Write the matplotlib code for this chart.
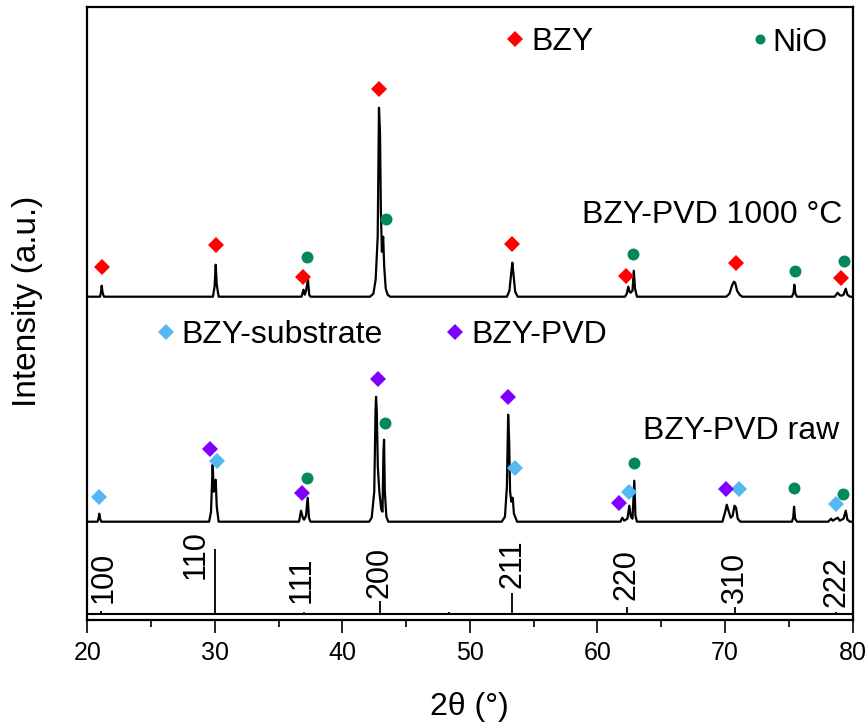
import matplotlib
matplotlib.use("Agg")
import matplotlib.pyplot as plt
from matplotlib.ticker import MultipleLocator

plt.rcParams['font.family'] = ['Liberation Sans', 'DejaVu Sans']

# ---------------- data ----------------
# BZY-PVD 1000 °C pattern (2theta, relative intensity above its baseline)
top_x = [20.0, 21.0, 21.08, 21.13, 21.2, 21.3,
         29.85, 29.98, 30.07, 30.15, 30.3,
         36.8, 36.95, 37.05, 37.15, 37.3, 37.4, 37.5,
         42.17, 42.43, 42.61, 42.77, 42.87, 42.95, 43.02, 43.1, 43.2, 43.28, 43.4, 43.55, 43.75,
         52.9, 53.1, 53.25, 53.33, 53.42, 53.55, 53.75,
         62.16, 62.3, 62.42, 62.52, 62.6, 62.75, 62.85, 62.95, 63.1,
         70.1, 70.35, 70.55, 70.7, 70.8, 70.95, 71.15, 71.35,
         75.25, 75.38, 75.44, 75.52, 75.65,
         78.6, 78.84, 79.0, 79.15, 79.3, 79.47, 79.6, 79.8, 79.9]
top_y = [0, 0, 5, 11, 4, 0,
         0, 10, 32, 12, 0,
         0, 7, 2, 6, 17, 2, 0,
         0, 3, 17, 60, 189, 165, 85, 45, 60, 30, 8, 2, 0,
         0, 6, 25, 34, 22, 5, 0,
         0, 3, 10, 5, 4, 6, 26, 8, 0,
         0, 3, 11, 15, 14, 6, 2, 0,
         0, 4, 12, 3, 0,
         0, 4, 1.5, 1, 2, 8, 2, 0, 0]

# BZY-PVD raw pattern
raw_x = [20.0, 20.8, 20.88, 20.94, 21.0, 21.1,
         29.55, 29.7, 29.83, 29.92, 30.0, 30.07, 30.15, 30.3,
         36.6, 36.76, 36.9, 37.0, 37.15, 37.28, 37.38, 37.5,
         42.1, 42.3, 42.5, 42.6, 42.64, 42.7, 42.78, 42.9, 43.05, 43.15, 43.22, 43.27, 43.33, 43.45, 43.6,
         52.5, 52.75, 52.9, 53.0, 53.08, 53.15, 53.25, 53.36, 53.45, 53.7,
         61.8, 61.95, 62.1, 62.35, 62.5, 62.62, 62.75, 62.89, 62.98, 63.1,
         69.8, 70.0, 70.14, 70.3, 70.45, 70.6, 70.75, 70.87, 71.0, 71.2,
         75.25, 75.35, 75.42, 75.5, 75.65,
         78.1, 78.32, 78.45, 78.84, 79.0, 79.3, 79.47, 79.6, 79.8, 79.9]
raw_y = [0, 0, 3, 8, 3, 0,
         0, 10, 57, 30, 38, 42, 15, 0,
         0, 11, 4, 2, 6, 24, 4, 0,
         0, 4, 30, 110, 125, 110, 55, 30, 12, 10, 70, 82, 30, 5, 0,
         0, 5, 35, 107, 80, 30, 20, 24, 8, 0,
         0, 4, 1, 3, 16, 5, 3, 41, 6, 0,
         0, 9, 17, 10, 4, 6, 16, 14, 3, 0,
         0, 4, 15, 3, 0,
         0, 3, 1, 4, 1, 3, 11, 2, 0, 0]

top_offset = 323.3
raw_offset = 98.3

# reference (stick) pattern
ref_pos = [21.1, 30.03, 36.96, 42.94, 48.33, 53.33, 62.34, 70.76, 78.71]
ref_int = [3.6, 65, 2.3, 13, 2.3, 21, 7, 7, 2.3]
ref_base = 5.7
hkl_labels = ['100', '110', '111', '200', '211', '220', '310', '222']
hkl_x = [21.3, 28.5, 36.84, 42.94, 53.33, 62.3, 70.76, 78.75]
hkl_y = [17, 41, 17, 22, 32, 20, 17, 13]

# phase markers: top pattern
bzy_top_x = [21.13, 30.09, 36.89, 42.9, 53.33, 62.22, 70.87, 79.1]
bzy_top_y = [353.3, 375, 342.7, 530.7, 375.7, 344, 356.7, 342.3]
nio_top_x = [37.2, 43.42, 62.82, 75.49, 79.34]
nio_top_y = [362.7, 401.3, 365.7, 349.3, 359.3]

# phase markers: raw pattern
sub_raw_x = [20.94, 30.19, 53.54, 62.48, 71.13, 78.71]
sub_raw_y = [123.3, 158.7, 152.3, 128.3, 131.3, 116]
pvd_raw_x = [29.62, 36.81, 42.77, 53.01, 61.72, 70.08]
pvd_raw_y = [171, 126.7, 241.3, 222.7, 117.3, 131.3]
nio_raw_x = [37.25, 43.34, 62.87, 75.42, 79.28]
nio_raw_y = [141.7, 196.7, 157.3, 131.7, 126]

RED = '#FF0000'
GREEN = '#03875F'
LBLUE = '#55B8F5'
PURPLE = '#7F00FF'

# ---------------- figure ----------------
W, H = 867, 727
fig = plt.figure(figsize=(W / 100, H / 100), dpi=100)
ax = fig.add_axes([87.3 / W, 107 / H, 765.2 / W, 613.3 / H])

ax.plot(top_x, [v + top_offset for v in top_y], color='black', lw=1.6, solid_joinstyle='round')
ax.plot(raw_x, [v + raw_offset for v in raw_y], color='black', lw=1.6, solid_joinstyle='round')

# stick pattern
ax.plot([20, 80], [ref_base, ref_base], color='black', lw=1.5)
ax.vlines(ref_pos, ref_base, [ref_base + v for v in ref_int], color='black', lw=1.3)
for lab, x, y in zip(hkl_labels, hkl_x, hkl_y):
    ax.text(x, y, lab, rotation=90, ha='center', va='bottom', fontsize=22)

dms = 7.8
cms = 8.6
ax.plot(bzy_top_x, bzy_top_y, 'D', color=RED, ms=dms, mew=0)
ax.plot(nio_top_x, nio_top_y, 'o', color=GREEN, ms=cms, mew=0)
ax.plot(sub_raw_x, sub_raw_y, 'D', color=LBLUE, ms=dms, mew=0)
ax.plot(pvd_raw_x, pvd_raw_y, 'D', color=PURPLE, ms=dms, mew=0)
ax.plot(nio_raw_x, nio_raw_y, 'o', color=GREEN, ms=cms, mew=0)

# in-plot legends
FS = 23
ax.plot([53.56], [581], 'D', color=RED, ms=dms, mew=0)
ax.text(54.8, 570, 'BZY', fontsize=FS, ha='left', va='baseline')
ax.plot([72.75], [580.7], 'o', color=GREEN, ms=7.2, mew=0)
ax.text(73.74, 569, 'NiO', fontsize=FS, ha='left', va='baseline')
ax.plot([26.15], [287.7], 'D', color=LBLUE, ms=dms, mew=0)
ax.text(27.4, 277.3, 'BZY-substrate', fontsize=FS, ha='left', va='baseline')
ax.plot([48.83], [287.7], 'D', color=PURPLE, ms=dms, mew=0)
ax.text(50.14, 277.3, 'BZY-PVD', fontsize=FS, ha='left', va='baseline')

ax.text(79.2, 397.3, 'BZY-PVD 1000 °C', fontsize=FS, ha='right', va='baseline')
ax.text(78.94, 180.7, 'BZY-PVD raw', fontsize=FS, ha='right', va='baseline')

ax.set_xlim(20, 80)
ax.set_ylim(0, 613.3)
ax.xaxis.set_major_locator(MultipleLocator(10))
ax.xaxis.set_minor_locator(MultipleLocator(5))
ax.tick_params(axis='x', which='major', direction='out', length=9.4, width=1.2,
               labelsize=18, pad=6)
ax.tick_params(axis='x', which='minor', direction='out', length=5, width=1.2)
ax.set_yticks([])
for s in ax.spines.values():
    s.set_linewidth(1.6)

# axis titles
fig.text(469 / W, 1 - 707 / H, '2θ (°)', fontsize=23, ha='center', va='center')
fig.text(28 / W, 1 - 301.5 / H, 'Intensity (a.u.)', fontsize=24, rotation=90,
         ha='center', va='center')

fig.savefig('out.png', dpi=100)
